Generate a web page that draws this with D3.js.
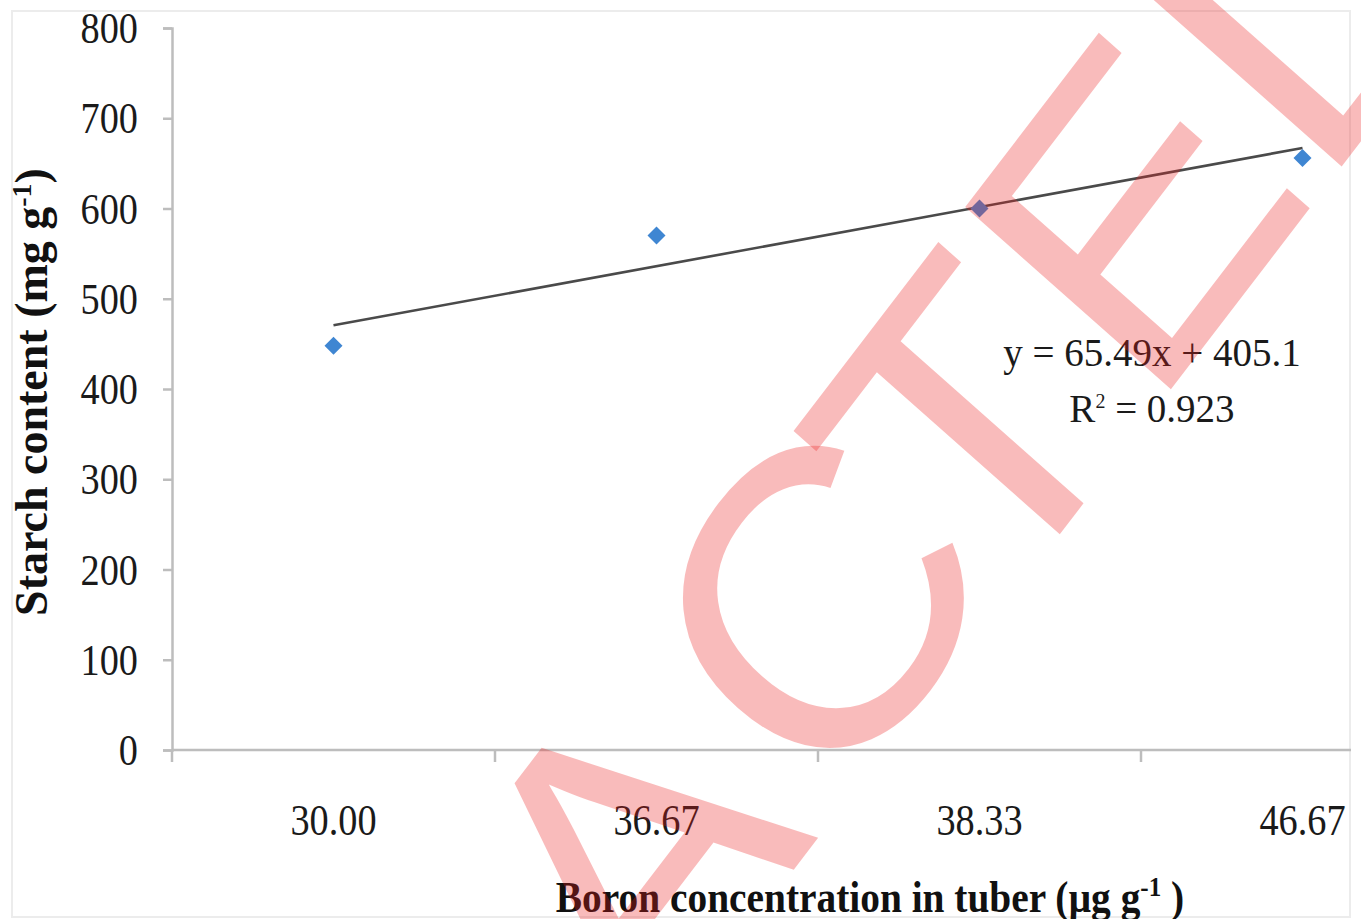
<!DOCTYPE html>
<html>
<head>
<meta charset="utf-8">
<script src="https://cdn.jsdelivr.net/npm/d3@7"></script>
<style>
  body { margin: 0; background: #fff; }
  svg { display: block; }
</style>
</head>
<body>
<svg></svg>
<script>
// data
var categories = ["30.00", "36.67", "38.33", "46.67"];
var starch = [448, 570, 600, 656];
var yTicks = [0, 100, 200, 300, 400, 500, 600, 700, 800];
var trendSlope = 65.49;
var trendIntercept = 405.1;
var trendR2 = 0.923;
var watermarkText = "RETRACTED";

var width = 1361, height = 919;
var svg = d3.select("svg").attr("width", width).attr("height", height);

svg.append("rect").attr("width", width).attr("height", height).attr("fill", "#fff");

// outer chart frame (picture is cropped on the right)
svg.append("rect")
  .attr("x", 12).attr("y", 11)
  .attr("width", 1338).attr("height", 906)
  .attr("fill", "#fff")
  .attr("stroke", "#ececec")
  .attr("stroke-width", 2);

var defs = svg.append("defs");
defs.append("clipPath").attr("id", "frame")
  .append("rect").attr("x", 0).attr("y", 0).attr("width", 1351).attr("height", height);

var x = d3.scaleBand()
  .domain(categories)
  .range([172, 172 + 4 * 323])
  .padding(0);

var y = d3.scaleLinear()
  .domain([0, 800])
  .range([750, 28]);

var plot = svg.append("g").attr("clip-path", "url(#frame)");

var axisColor = "#bdbdbd";
var font = "'Liberation Serif', 'Times New Roman', serif";

// y axis
var yAxis = plot.append("g")
  .attr("transform", "translate(172,0)")
  .call(d3.axisLeft(y).tickValues(yTicks).tickSize(9).tickFormat(""));
yAxis.select(".domain").attr("stroke", axisColor).attr("stroke-width", 2.5);
yAxis.selectAll(".tick line").attr("stroke", axisColor).attr("stroke-width", 2.5);

// x axis: ticks on category boundaries
var xAxisG = plot.append("g").attr("transform", "translate(0," + y(0) + ")");
xAxisG.append("line")
  .attr("x1", x.range()[0]).attr("x2", x.range()[1])
  .attr("stroke", axisColor).attr("stroke-width", 2.5);
xAxisG.selectAll("line.tk")
  .data(categories)
  .enter().append("line")
  .attr("class", "tk")
  .attr("x1", d => x(d)).attr("x2", d => x(d))
  .attr("y1", 0).attr("y2", 12)
  .attr("stroke", axisColor).attr("stroke-width", 2.5);

// y tick labels
svg.append("g").selectAll("text")
  .data(yTicks)
  .enter().append("text")
  .attr("transform", d => "translate(138," + (y(d) + 15) + ") scale(0.87,1)")
  .attr("text-anchor", "end")
  .style("font-family", font)
  .style("font-size", "44px")
  .style("fill", "#1a1a1a")
  .text(d => d);

// x tick labels
plot.append("g").selectAll("text")
  .data(categories)
  .enter().append("text")
  .attr("transform", d => "translate(" + (x(d) + x.bandwidth() / 2) + ",835) scale(0.87,1)")
  .attr("text-anchor", "middle")
  .style("font-family", font)
  .style("font-size", "44px")
  .style("fill", "#1a1a1a")
  .text(d => d);

// trendline
var trend = categories.map((c, i) => ({ c: c, v: trendIntercept + trendSlope * (i + 1) }));
plot.append("line")
  .attr("x1", x(trend[0].c) + x.bandwidth() / 2)
  .attr("y1", y(trend[0].v))
  .attr("x2", x(trend[3].c) + x.bandwidth() / 2)
  .attr("y2", y(trend[3].v))
  .attr("stroke", "#4a4a4a")
  .attr("stroke-width", 2.6);

// diamond markers
var r = 9;
plot.append("g").selectAll("path")
  .data(starch)
  .enter().append("path")
  .attr("transform", (d, i) => "translate(" + (x(categories[i]) + x.bandwidth() / 2) + "," + y(d) + ")")
  .attr("d", "M0," + (-r) + "L" + r + ",0L0," + r + "L" + (-r) + ",0Z")
  .attr("fill", "#3f86d2");

// equation
var eq = svg.append("g").style("font-family", font).style("fill", "#1a1a1a").style("font-size", "39px");
eq.append("text")
  .attr("x", 1152).attr("y", 366)
  .attr("text-anchor", "middle")
  .text("y = " + trendSlope + "x + " + trendIntercept);
var r2 = eq.append("text")
  .attr("x", 1152).attr("y", 422)
  .attr("text-anchor", "middle");
r2.append("tspan").text("R");
r2.append("tspan").attr("dy", -14).style("font-size", "20px").text("2");
r2.append("tspan").attr("dy", 14).text(" = " + trendR2);

// axis titles
var yTitle = svg.append("text")
  .attr("transform", "translate(47,392) rotate(-90)")
  .attr("text-anchor", "middle")
  .style("font-family", font)
  .style("font-weight", "bold")
  .style("font-size", "46px")
  .style("fill", "#111");
yTitle.append("tspan").text("Starch content (mg g");
yTitle.append("tspan").attr("dy", -16).style("font-size", "28px").text("-1");
yTitle.append("tspan").attr("dy", 16).text(")");

var xTitle = svg.append("text")
  .attr("transform", "translate(870,912) scale(0.895,1)")
  .attr("text-anchor", "middle")
  .style("font-family", font)
  .style("font-weight", "bold")
  .style("font-size", "44px")
  .style("fill", "#111");
xTitle.append("tspan").text("Boron concentration in tuber (\u00b5g g");
xTitle.append("tspan").attr("dy", -16).style("font-size", "28px").text("-1");
xTitle.append("tspan").attr("dy", 16).text(" )");

// watermark stamp over everything (A and C sit a little off the Arial spacing)
svg.append("text")
  .attr("transform", "matrix(0.256,-0.334,0.299,0.265,-59,1994)")
  .attr("dx", "0 0 0 0 60 52 -112 0 0")
  .attr("dy", "0 0 0 0 -18 -11 29 0 0")
  .style("font-family", "'Liberation Sans', Arial, sans-serif")
  .style("font-size", "1000px")
  .style("fill", "rgb(235,30,30)")
  .style("fill-opacity", 0.3)
  .text(watermarkText);
</script>
</body>
</html>
